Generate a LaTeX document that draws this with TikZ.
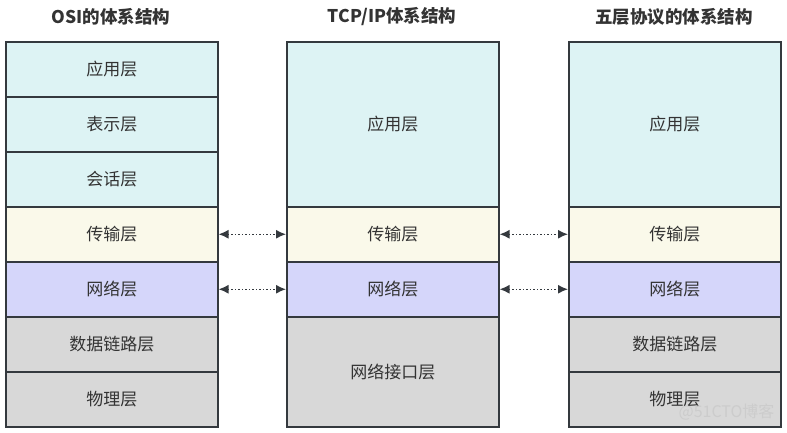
\documentclass[tikz,border=0pt]{standalone}
\usepackage{fontspec}
\setmainfont{Noto Sans CJK SC}
\usetikzlibrary{arrows.meta}
\definecolor{appc}{RGB}{221,243,244}
\definecolor{trnc}{RGB}{250,249,234}
\definecolor{netc}{RGB}{213,214,250}
\definecolor{lowc}{RGB}{216,216,216}
\definecolor{edgec}{RGB}{52,57,62}
\definecolor{txtc}{RGB}{51,51,51}
\begin{document}
\begin{tikzpicture}[x=1pt,y=-1pt,
  layer/.style={draw=edgec,line width=1.5pt,minimum width=212pt,inner sep=0pt,font=\fontsize{17}{19}\selectfont,text=txtc,anchor=north west},
  ttl/.style={font=\fontsize{17.5}{20}\bfseries\selectfont,text=txtc},
  link/.style={edgec,line width=1.5pt,dotted,{Latex[length=10pt,width=9pt]}-{Latex[length=10pt,width=9pt]}}]
\useasboundingbox (0,0) rectangle (787,432);
% OSI
\node[ttl] (t1) at (111,17) {OSI的体系结构};
\node[layer,fill=appc,minimum height=55pt] (o1) at (5,41) {应用层};
\node[layer,fill=appc,minimum height=55pt] (o2) at (5,96) {表示层};
\node[layer,fill=appc,minimum height=55pt] (o3) at (5,151) {会话层};
\node[layer,fill=trnc,minimum height=55pt] (o4) at (5,206) {传输层};
\node[layer,fill=netc,minimum height=55pt] (o5) at (5,261) {网络层};
\node[layer,fill=lowc,minimum height=55pt] (o6) at (5,316) {数据链路层};
\node[layer,fill=lowc,minimum height=55pt] (o7) at (5,371) {物理层};
% TCP/IP
\node[ttl] (t2) at (392,17) {TCP/IP体系结构};
\node[layer,fill=appc,minimum height=165pt] (p1) at (286,41) {应用层};
\node[layer,fill=trnc,minimum height=55pt] (p2) at (286,206) {传输层};
\node[layer,fill=netc,minimum height=55pt] (p3) at (286,261) {网络层};
\node[layer,fill=lowc,minimum height=110pt] (p4) at (286,316) {网络接口层};
% Five layer
\node[ttl] (t3) at (674,17) {五层协议的体系结构};
\node[layer,fill=appc,minimum height=165pt] (f1) at (568,41) {应用层};
\node[layer,fill=trnc,minimum height=55pt] (f2) at (568,206) {传输层};
\node[layer,fill=netc,minimum height=55pt] (f3) at (568,261) {网络层};
\node[layer,fill=lowc,minimum height=55pt] (f4) at (568,316) {数据链路层};
\node[layer,fill=lowc,minimum height=55pt] (f5) at (568,371) {物理层};
% links
\draw[link] (o4.east) -- (p2.west);
\draw[link] (o5.east) -- (p3.west);
\draw[link] (p2.east) -- (f2.west);
\draw[link] (p3.east) -- (f3.west);
% watermark
\node[font=\fontsize{16}{17}\selectfont,text=black!20,anchor=east] (wm) at (778,412) {@51CTO博客};
\end{tikzpicture}
\end{document}
